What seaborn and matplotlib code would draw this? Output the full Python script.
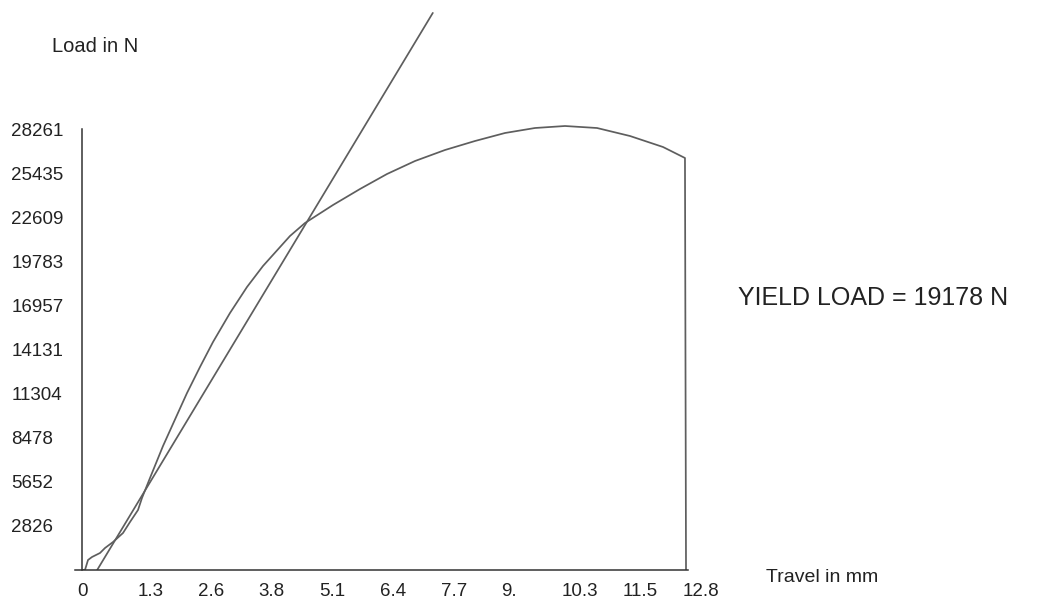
import numpy as np
import pandas as pd
import matplotlib
matplotlib.use("Agg")
import matplotlib.pyplot as plt
import matplotlib.transforms as mtrans
import seaborn as sns

# load-travel curve
travel = [0.0, 0.063, 0.127, 0.211, 0.38, 0.486, 0.655, 0.866, 1.014, 1.183, 1.267,
          1.436, 1.711, 2.007, 2.218, 2.492, 2.767, 3.126, 3.485, 3.823, 4.393,
          4.71, 5.302, 5.872, 6.442, 7.034, 7.667, 8.301, 8.935, 9.568, 10.202,
          10.878, 11.575, 12.272, 12.736, 12.758]
load = [0, 0, 641, 833, 1089, 1410, 1794, 2371, 3076, 3845, 4614,
        5896, 7946, 9933, 11343, 13009, 14611, 16470, 18136, 19482, 21404,
        22237, 23391, 24416, 25377, 26210, 26915, 27492, 28005, 28325, 28453,
        28325, 27812, 27108, 26403, 0]

# straight line drawn for the yield construction
tangent_x = [0.32, 7.41]
tangent_y = [0, 35700]

x_ticks = [0, 1.28, 2.56, 3.84, 5.12, 6.4, 7.68, 8.96, 10.24, 11.52, 12.8]
x_labels = ["0", "1.3", "2.6", "3.8", "5.1", "6.4", "7.7", "9.", "10.3", "11.5", "12.8"]
y_ticks = [0, 2826, 5652, 8478, 11304, 14131, 16957, 19783, 22609, 25435, 28261]
y_labels = ["", "2826", "5652", "8478", "11304", "14131", "16957", "19783",
            "22609", "25435", "28261"]

curve = pd.DataFrame({"travel": travel, "load": load})
line = pd.DataFrame({"travel": tangent_x, "load": tangent_y})

sns.set_style("white")
plt.rcParams["font.family"] = ["Liberation Sans", "DejaVu Sans"]

fig = plt.figure(figsize=(10.4, 6.06), dpi=100)
ax = fig.add_axes([74.9 / 1040, 36 / 606, (688 - 74.9) / 1040, 570 / 606])

col = "#5e5e5e"
sns.lineplot(data=curve, x="travel", y="load", sort=False, estimator=None,
             color=col, lw=1.25, ax=ax)
sns.lineplot(data=line, x="travel", y="load", sort=False, estimator=None,
             color=col, lw=1.25, ax=ax)

ax.set_xlim(-0.15, 12.8)
ax.set_ylim(0, 36528)
ax.set_xlabel("")
ax.set_ylabel("")

for s in ["top", "right"]:
    ax.spines[s].set_visible(False)
ax.spines["left"].set_position(("data", 0))
ax.spines["left"].set_bounds(0, 28261)
for s in ["left", "bottom"]:
    ax.spines[s].set_color("#333333")
    ax.spines[s].set_linewidth(1.1)

ax.set_xticks(x_ticks)
ax.set_xticklabels(x_labels)
ax.set_yticks(y_ticks)
ax.set_yticklabels(y_labels)
ax.tick_params(axis="x", direction="in", length=4, width=1, color="#333333",
               pad=9, labelsize=13.5, labelcolor="#222222")
ax.tick_params(axis="y", direction="out", length=7, width=1, color="#333333",
               pad=44, labelsize=13.5, labelcolor="#222222")

# labels in the scan sit left-aligned near their ticks
shift = mtrans.ScaledTranslation(-0.05, 0, fig.dpi_scale_trans)
for lab in ax.get_xticklabels():
    lab.set_ha("left")
    lab.set_transform(lab.get_transform() + shift)
for lab in ax.get_yticklabels():
    lab.set_ha("left")

fig.text(52 / 1040, 1 - 47 / 606, "Load in N", fontsize=14.5, color="#222222",
         ha="left", va="center")
fig.text(766 / 1040, 1 - 578 / 606, "Travel in mm", fontsize=14, color="#222222",
         ha="left", va="center")
fig.text(738 / 1040, 1 - 298 / 606, "YIELD LOAD = 19178 N", fontsize=18,
         color="#222222", ha="left", va="center")

fig.savefig("out.png", dpi=100)
